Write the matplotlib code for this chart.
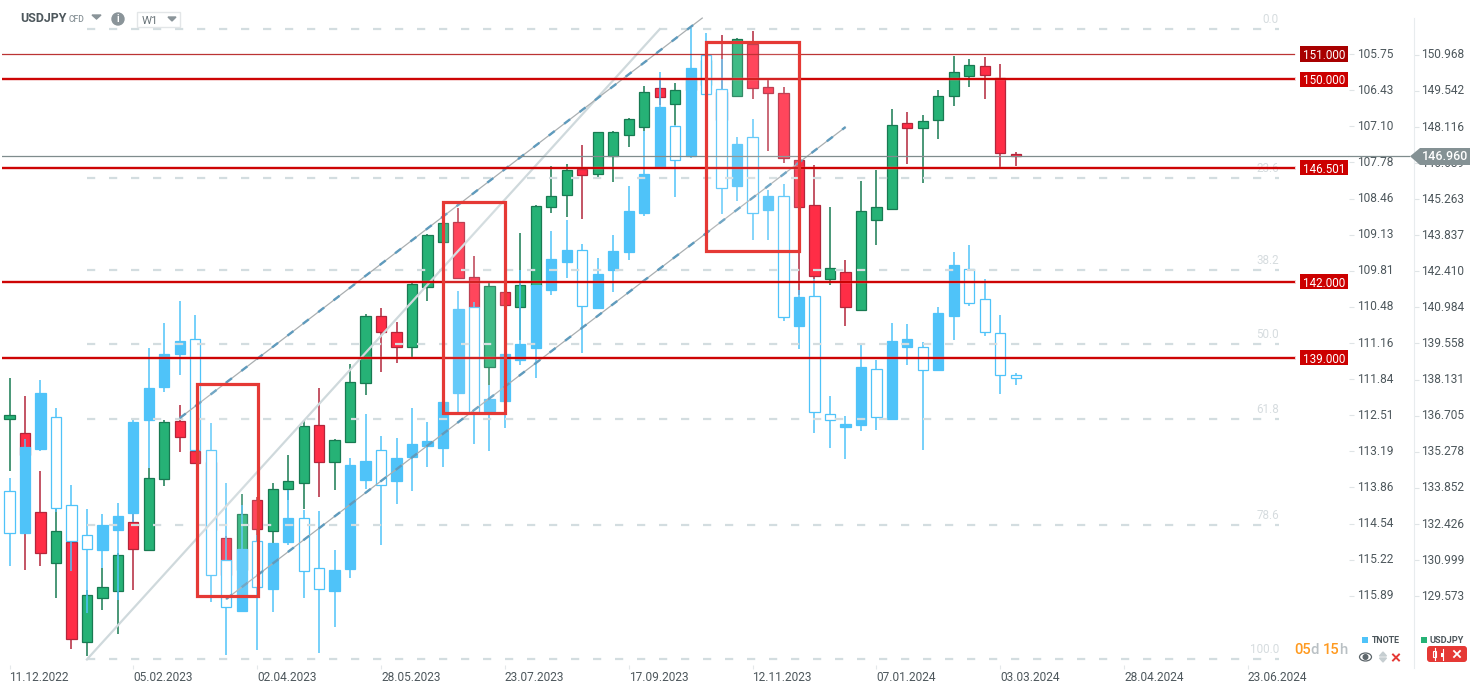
import matplotlib
matplotlib.use("Agg")
import matplotlib.pyplot as plt
from matplotlib.patches import Rectangle, Polygon, Circle, Ellipse, FancyBboxPatch
from matplotlib.transforms import ScaledTranslation

plt.rcParams['font.family'] = ['Roboto', 'DejaVu Sans']

# USDJPY weekly candles (from 11.12.2022)
usd_open = [136.56,136.01,132.91,130.87,131.72,127.74,129.48,129.78,132.49,131.38,
            134.19,136.48,135.31,134.87,131.86,130.60,133.36,132.13,133.79,134.03,
            136.32,134.86,135.65,137.98,140.63,140.00,139.41,141.80,143.56,144.35,
            142.17,138.62,141.60,140.99,141.84,144.94,145.41,146.45,146.24,146.97,
            147.79,148.13,149.64,149.04,149.58,149.77,149.50,149.35,151.38,149.68,
            149.45,146.80,145.02,142.09,142.37,140.89,144.43,144.88,148.26,148.06,
            148.38,149.33,150.12,150.51,150.04,147.06]
usd_close = [136.72,135.15,131.26,132.13,127.86,129.60,129.92,131.18,131.42,134.23,
             136.44,135.85,134.84,132.18,130.40,132.80,132.21,133.79,134.11,136.28,
             134.86,135.73,138.02,140.63,140.00,139.43,141.90,143.83,144.32,142.13,
             141.00,141.83,141.09,141.86,144.99,145.37,146.40,146.20,147.90,147.90,
             148.42,149.49,149.31,149.57,150.05,150.76,148.39,151.58,149.67,149.47,
             146.88,144.96,142.24,142.53,140.99,144.78,144.94,148.18,148.06,148.34,
             149.33,150.28,150.55,150.16,147.07,146.98]
usd_high = [138.19,137.48,134.52,133.05,131.99,129.81,130.67,131.27,132.86,134.62,
            136.53,137.12,135.42,135.15,131.95,133.61,133.50,134.03,135.14,136.53,
            137.79,135.78,138.75,140.72,140.95,140.42,141.95,143.88,144.33,144.90,
            143.01,141.94,141.62,143.91,145.03,146.57,146.65,147.40,147.92,147.96,
            148.47,149.74,149.97,149.84,150.29,150.85,151.75,151.62,151.90,149.97,
            149.68,146.93,146.61,144.96,142.86,145.98,146.41,148.83,148.71,148.58,
            149.58,150.92,150.79,150.88,150.59,147.11]
usd_low = [134.53,130.60,130.77,129.51,127.49,127.21,129.02,128.08,129.81,131.35,
           133.93,135.28,134.78,131.00,129.42,129.42,131.59,131.67,133.37,133.03,
           133.50,133.76,135.62,137.52,138.44,138.80,139.03,141.25,143.54,142.10,
           140.49,137.92,140.92,139.69,141.80,144.70,144.57,144.47,146.07,145.95,
           147.34,147.96,148.98,148.19,149.38,149.58,148.00,149.32,149.22,147.17,
           146.70,141.47,142.11,141.87,140.26,140.84,143.45,144.83,146.66,145.91,
           147.65,148.96,149.71,149.23,146.49,146.58]

# TNOTE weekly candles (plotted on an inverted scale)
tn_open = [113.94,114.71,113.14,112.55,114.20,114.76,115.03,114.66,114.34,112.61,
           111.98,111.37,111.09,113.17,115.22,116.17,114.87,115.76,114.88,114.44,
           115.38,115.80,115.39,113.72,113.17,113.74,113.29,113.09,113.12,112.09,
           110.49,112.43,112.24,111.47,111.25,110.16,109.64,109.42,110.50,109.79,
           109.45,108.73,107.87,107.10,107.66,105.76,106.41,108.23,107.31,108.67,
           108.40,110.84,110.28,112.49,112.73,112.70,111.65,112.58,111.23,111.24,
           111.66,110.65,109.78,110.34,110.98,111.75]
tn_close = [114.72,113.11,112.10,114.25,114.87,115.02,114.57,114.39,112.64,112.01,
            111.37,111.12,113.17,115.50,116.11,115.02,115.73,114.91,114.44,115.43,
            115.77,115.41,113.45,113.36,113.82,113.32,113.05,112.99,112.26,110.52,
            112.45,112.20,111.37,111.18,110.08,109.59,109.42,110.47,109.87,109.44,
            108.69,108.00,106.74,107.74,106.02,106.49,108.25,107.43,108.73,108.41,
            110.67,110.30,112.46,112.61,112.68,111.61,112.54,111.12,111.09,111.67,
            110.60,109.70,110.42,110.96,111.76,111.82]
tn_high = [115.33,114.73,113.18,114.32,115.42,116.21,115.37,115.97,114.51,113.50,
           112.07,111.75,113.18,116.00,117.01,116.18,116.91,116.19,114.95,115.93,
           116.96,116.47,115.55,113.89,114.95,114.17,113.94,113.49,113.48,112.45,
           113.05,113.19,112.75,111.57,111.81,110.27,109.94,111.34,110.51,110.20,
           109.61,108.78,107.88,108.42,107.69,106.50,108.74,108.50,109.23,109.23,
           110.74,111.27,112.84,113.12,113.33,112.80,112.79,112.59,111.57,113.16,
           111.67,111.10,110.46,111.02,112.11,111.94]
tn_low = [113.69,112.96,111.85,112.38,113.82,114.27,114.36,114.16,112.60,111.26,
          110.79,110.37,110.64,112.66,113.79,114.19,114.75,114.90,113.91,114.29,
          114.31,115.04,113.32,112.49,112.91,112.93,112.38,112.64,112.23,110.19,
          110.40,111.95,110.92,109.79,110.07,109.06,108.86,109.31,109.57,109.14,
          108.22,107.19,106.09,107.08,105.27,105.36,105.84,107.30,106.97,108.30,
          108.18,110.17,109.97,112.15,112.53,111.20,111.48,110.79,110.80,111.14,
          110.49,109.46,109.33,109.96,110.64,111.72]

usd_ticks = [150.968,149.542,148.116,146.689,145.263,143.837,142.410,140.984,
             139.558,138.131,136.705,135.278,133.852,132.426,130.999,129.573]
usd_tick_labels = ['150.968','149.542','148.116','146.689','145.263','143.837','142.410','140.984',
                   '139.558','138.131','136.705','135.278','133.852','132.426','130.999','129.573']
tn_ticks = [105.75,106.43,107.10,107.78,108.46,109.13,109.81,110.48,
            111.16,111.84,112.51,113.19,113.86,114.54,115.22,115.89]
date_positions = [0,8,16,24,32,40,48,56,64,72,80]
date_labels = ['11.12.2022','05.02.2023','02.04.2023','28.05.2023','23.07.2023','17.09.2023',
               '12.11.2023','07.01.2024','03.03.2024','28.04.2024','23.06.2024']
level_values = [151.0,150.0,146.501,142.0,139.0]
level_labels = ['151.000','150.000','146.501','142.000','139.000']
fib_values = [151.98,146.10,142.46,139.52,136.59,132.40,127.07]
fib_labels = ['0.0','23.6','38.2','50.0','61.8','78.6','100.0']
last_price = 146.96
trend_light = ([5,42],[127.07,151.98])
trend_upper = ([11,44.75],[136.61,152.42])
trend_lower = ([14,54],[129.46,148.11])
boxes = [(12.08,16.05,129.59,137.96),(28.0,32.0,136.8,145.14),(44.96,51.0,143.21,151.46)]

W, H = 1482, 694
fig = plt.figure(figsize=(W/100, H/100), dpi=100, facecolor='white')
L, R, T, B = 2, 1349, 0, 665
pos = [L/W, (H-B)/H, (R-L)/W, (B-T)/H]
xlim = (-0.486, 86.53)
ylim_usd = (126.85, 153.134)
ylim_tn = (117.188, 104.739)
TXT = '#4d575c'

ax = fig.add_axes(pos, zorder=1)
ax.set_xlim(*xlim); ax.set_ylim(*ylim_usd)
ax.set_facecolor('white')
GREEN, GREEN_E = '#26b276', '#187a52'
RED, RED_E = '#ff2d46', '#b3263b'
BLUE = '#4fc3f9'
BW = 0.66
for i,(o,c,h,l) in enumerate(zip(usd_open,usd_close,usd_high,usd_low)):
    up = c >= o
    e = GREEN_E if up else RED_E
    f = GREEN if up else RED
    ax.plot([i,i],[l,h],color=e,lw=1.1,solid_capstyle='butt',zorder=2)
    ax.bar(i,abs(c-o),bottom=min(o,c),width=BW,color=f,edgecolor=e,linewidth=0.9,zorder=3)
for s in ['top','left','bottom']:
    ax.spines[s].set_visible(False)
ax.spines['right'].set_position(('outward',46.8))
ax.spines['right'].set_color('#e8ecee')
ax.spines['right'].set_bounds(126.73,152.42)
ax.yaxis.tick_right()
ax.set_yticks(usd_ticks, usd_tick_labels)
ax.tick_params(axis='y',length=3.6,width=0.8,color='#dfe4e6',labelcolor=TXT,labelsize=8.6,pad=1.5)
ax.set_xticks(date_positions, date_labels, ha='left')
ax.tick_params(axis='x',length=3,width=0.8,color='#e4e8ea',labelcolor=TXT,labelsize=8.6,pad=1.5)
up_shift = ScaledTranslation(0, 1.4/100, fig.dpi_scale_trans)
for t in ax.get_yticklabels():
    t.set_transform(t.get_transform() + up_shift)

ax2 = fig.add_axes(pos, zorder=2, sharex=ax)
ax2.patch.set_alpha(0)
ax2.set_ylim(*ylim_tn)
for i,(o,c,h,l) in enumerate(zip(tn_open,tn_close,tn_high,tn_low)):
    ax2.plot([i,i],[l,h],color=BLUE,lw=1.1,solid_capstyle='butt',zorder=2)
    filled = c < o
    ax2.bar(i,abs(c-o),bottom=min(o,c),width=BW,color=BLUE if filled else 'white',
            edgecolor=BLUE,linewidth=0.9,zorder=3)
for s in ax2.spines.values():
    s.set_visible(False)
ax2.yaxis.tick_right()
ax2.set_yticks(tn_ticks, [f'{v:.2f}' for v in tn_ticks])
ax2.tick_params(axis='y',length=3.6,width=0.8,color='#dfe4e6',labelcolor=TXT,labelsize=8.6,pad=2)
ax2.tick_params(axis='x',bottom=False,labelbottom=False)
for t in ax2.get_yticklabels():
    t.set_transform(t.get_transform() + up_shift)

ax3 = fig.add_axes(pos, zorder=3)
ax3.set_xlim(*xlim); ax3.set_ylim(*ylim_usd)
ax3.axis('off')
for v,lab in zip(fib_values,fib_labels):
    ax3.plot([5,82],[v,v],color='#d3dde0',lw=1.6,dashes=(3.7,6.2),dash_capstyle='butt',zorder=2)
    ax3.annotate(lab,(82,v),xytext=(0,2.2),textcoords='offset points',ha='right',va='bottom',
                 fontsize=8.4,color='#d6dcdf',zorder=2)
ax3.plot(*trend_light,color='#cfd9dc',lw=1.6,zorder=3)
for tr in (trend_upper,trend_lower):
    ax3.plot(*tr,color='#a9aeb0',lw=0.9,zorder=3)
    ax3.plot(*tr,color='#5f9bbd',lw=1.7,dashes=(3.2,5),zorder=3)
ax3.plot(xlim,[last_price,last_price],color='#7f8c8d',lw=0.9,zorder=4)
ax3.plot([xlim[1],xlim[1]+3.9],[last_price,last_price],color='#7f8c8d',lw=0.9,zorder=4,clip_on=False)
yt = ax3.get_yaxis_transform()
for v,lab in zip(level_values,level_labels):
    dark = v == 151.0
    col = '#a80000' if dark else '#cc0000'
    if dark:
        ax3.plot([xlim[0],83],[v,v],color='#b01010',lw=0.9,alpha=0.85,zorder=5)
    else:
        ax3.plot([xlim[0],83],[v,v],color='#e06060',lw=2.8,alpha=0.3,zorder=5)
        ax3.plot([xlim[0],83],[v,v],color='#cc0000',lw=1.4,zorder=5)
    ax3.add_patch(Rectangle((0.9636,v-0.3),0.0357,0.6,transform=yt,facecolor=col,edgecolor='none',zorder=6))
    ax3.text(0.9815,v,lab,transform=yt,color='white',fontsize=8.4,ha='center',va='center_baseline',zorder=7)
for x0,x1,y0,y1 in boxes:
    ax3.add_patch(Rectangle((x0,y0),x1-x0,y1-y0,facecolor='white',alpha=0.12,edgecolor='none',zorder=8))
    ax3.add_patch(Rectangle((x0,y0),x1-x0,y1-y0,facecolor='none',edgecolor='#e53935',lw=2.3,zorder=8,joinstyle='miter'))

# interface furniture, in pixel coordinates
ui = fig.add_axes([0,0,1,1], zorder=5)
ui.set_xlim(0,W); ui.set_ylim(H,0); ui.axis('off')
ui.text(20,18.5,'USDJPY',fontsize=8.9,fontweight='bold',color='#4d575c',va='center')
ui.text(69,19.5,'CFD',fontsize=6.2,fontweight='medium',color='#8a9499',va='center')
ui.add_patch(Polygon([(92,15),(101,15),(96.5,19)],color='#8a9499'))
ui.add_patch(Circle((118,19),6,color='#8a9499'))
ui.text(118,19,'i',color='white',fontsize=7,fontweight='bold',ha='center',va='center')
ui.add_patch(Rectangle((136.5,11.5),43,15,facecolor='white',edgecolor='#e3e6e8',lw=1))
ui.text(142,20.5,'W1',fontsize=8.2,color='#6b757a',va='center')
ui.add_patch(Polygon([(168,17),(176,17),(172,21)],color='#8a9499'))
ui.add_patch(Polygon([(1410,156.3),(1420,148),(1470,148),(1470,165),(1420,165)],color='#849194',lw=0))
ui.text(1445,156.5,'146.960',color='white',fontsize=9,fontweight='medium',ha='center',va='center')
# countdown
ui.text(1294,649.5,'05',color='#ff9a1f',fontsize=10.6,fontweight='medium',va='center')
ui.text(1310.5,649.5,'d',color='#b9c0c4',fontsize=10.6,fontweight='medium',va='center')
ui.text(1323,649.5,'15',color='#ff9a1f',fontsize=10.6,fontweight='medium',va='center')
ui.text(1339,649.5,'h',color='#b9c0c4',fontsize=10.6,fontweight='medium',va='center')
# legend
ui.add_patch(Rectangle((1362,637),6,6,color=BLUE,lw=0))
ui.text(1371.5,640.5,'TNOTE',fontsize=6.4,fontweight='bold',color='#4d575c',va='center')
ui.add_patch(Rectangle((1421,637),6,6,color=GREEN,lw=0))
ui.text(1430,640.5,'USDJPY',fontsize=6.7,fontweight='bold',color='#4d575c',va='center')
ui.add_patch(Ellipse((1365.5,657),12,8,facecolor='white',edgecolor='#5d666b',lw=0.9))
ui.add_patch(Circle((1365.5,657),2.3,color='#5d666b'))
ui.add_patch(Polygon([(1379.5,656),(1386.5,656),(1383,652)],color='#c6ced1'))
ui.add_patch(Polygon([(1379.5,658),(1386.5,658),(1383,662)],color='#c6ced1'))
ui.plot([1393,1399],[654.5,660.5],color='#e53935',lw=1.4)
ui.plot([1393,1399],[660.5,654.5],color='#e53935',lw=1.4)
ui.add_patch(FancyBboxPatch((1429,648),36,12,boxstyle='round,pad=2,rounding_size=3',facecolor='#e53935',edgecolor='none'))
ui.plot([1434.5,1434.5],[648,660],color='white',lw=0.8)
ui.add_patch(Rectangle((1433,650.5),3,6.5,facecolor='#e53935',edgecolor='white',lw=0.8))
ui.plot([1442.5,1442.5],[649,660],color='white',lw=0.8)
ui.add_patch(Rectangle((1441,652.5),3,4,color='white',lw=0))
ui.plot([1454,1460],[651,657],color='white',lw=1.3)
ui.plot([1454,1460],[657,651],color='white',lw=1.3)

fig.savefig('out.png', dpi=100)
